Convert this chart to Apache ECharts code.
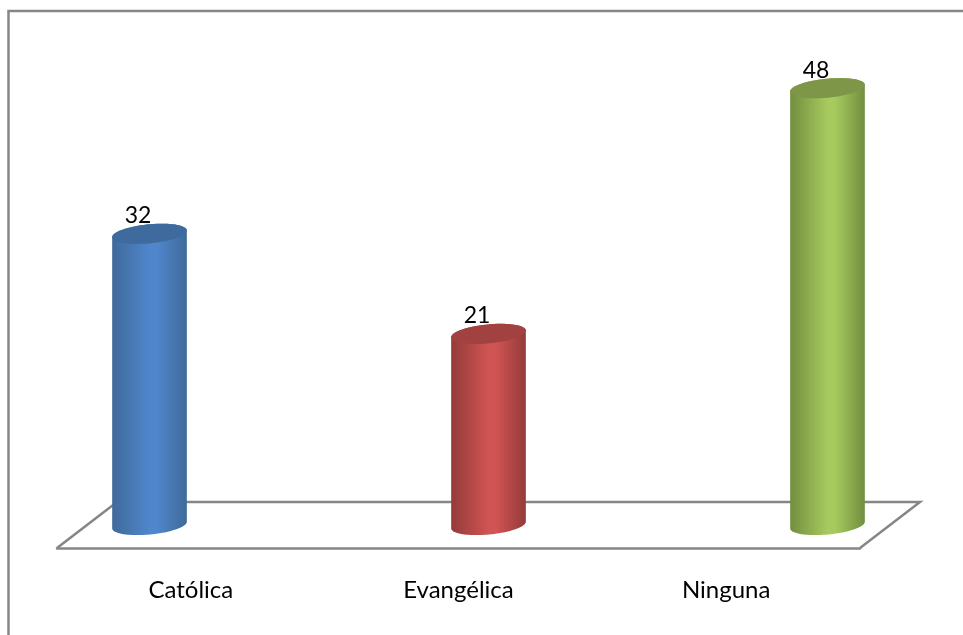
<!DOCTYPE html>
<html>
<head>
<meta charset="utf-8">
<style>html,body{margin:0;padding:0;background:#fff}#chart{width:963px;height:635px}</style>
<script src="https://cdn.jsdelivr.net/npm/echarts@6/dist/echarts.min.js"></script>
</head>
<body>
<div id="chart"></div>
<script>
// Respuestas por religión
const categories = ['Católica', 'Evangélica', 'Ninguna'];
const values = [32, 21, 48];

// Body gradient (edge, centre) and cap colour for each cylinder
const bodyEdge = ['#3f6a99', '#933b39', '#728e40'];
const bodyMid = ['#5086cc', '#d05453', '#a7ca5e'];
const capFill = ['#3e6a9e', '#a14240', '#7d9648'];

const FONT = 'Lato, Carlito, "Open Sans", sans-serif';
const GRAY = '#868686';
const RX = 37.5, RY = 9.5, TILT = 0.095;

// Point on a slightly tilted ellipse, right side raised
function ellipsePoint(cx, cy, t) {
  const u = RX * Math.cos(t), v = RY * Math.sin(t);
  return [cx + u * Math.cos(TILT) + v * Math.sin(TILT),
          cy - u * Math.sin(TILT) + v * Math.cos(TILT)];
}
function arc(cx, cy, from, to) {
  const pts = [];
  for (let i = 0; i <= 48; i++) pts.push(ellipsePoint(cx, cy, from + (to - from) * i / 48));
  return pts;
}

// Draws one cylinder from its category index and value
function renderCylinder(params, api) {
  const i = api.value(0), v = api.value(1);
  const top = api.coord([i, v]);
  const base = api.coord([i, 0]);
  const cx = top[0];
  const body = arc(cx, base[1], 0, Math.PI).concat(arc(cx, top[1], Math.PI, 2 * Math.PI));
  return {
    type: 'group',
    children: [
      {
        type: 'polygon',
        shape: { points: body },
        style: {
          fill: new echarts.graphic.LinearGradient(0, 0, 1, 0, [
            { offset: 0, color: bodyEdge[i] },
            { offset: 0.5, color: bodyMid[i] },
            { offset: 0.6, color: bodyMid[i] },
            { offset: 1, color: bodyEdge[i] }
          ])
        }
      },
      {
        type: 'polygon',
        shape: { points: arc(cx, top[1], 0, 2 * Math.PI) },
        style: { fill: capFill[i] }
      },
      {
        type: 'text',
        x: cx - 11.5,
        y: top[1] - 18,
        style: {
          text: String(v),
          font: '23px ' + FONT,
          fill: '#000',
          align: 'center',
          verticalAlign: 'middle'
        }
      }
    ]
  };
}

const chart = echarts.init(document.getElementById('chart'), null, { renderer: 'canvas' });
chart.setOption({
  animation: false,
  backgroundColor: '#fff',
  grid: [
    { left: 57, width: 803, top: 70, bottom: 87 },
    { left: 149.5, width: 678, top: 70, bottom: 110 }
  ],
  xAxis: [
    {
      type: 'category',
      gridIndex: 0,
      data: categories,
      axisTick: { show: false },
      axisLine: { show: true, lineStyle: { color: GRAY, width: 2.5 } },
      axisLabel: { color: '#000', fontSize: 24, fontFamily: FONT, margin: 30 }
    },
    { type: 'category', gridIndex: 1, data: categories, show: false, boundaryGap: false }
  ],
  yAxis: [
    { type: 'value', gridIndex: 0, show: false },
    { type: 'value', gridIndex: 1, show: false, min: 0, max: 50 }
  ],
  // Chart frame and the back edges of the floor
  graphic: [
    {
      type: 'polyline',
      silent: true,
      shape: { points: [[8.5, 635], [8.5, 11], [963, 11]] },
      style: { stroke: GRAY, lineWidth: 2.5, fill: null }
    },
    {
      type: 'polyline',
      silent: true,
      shape: { points: [[57, 548], [117, 502], [920, 502], [860, 548]] },
      style: { stroke: GRAY, lineWidth: 2.5, fill: null }
    }
  ],
  series: [
    {
      type: 'custom',
      xAxisIndex: 1,
      yAxisIndex: 1,
      z: 5,
      clip: false,
      renderItem: renderCylinder,
      encode: { x: 0, y: 1 },
      data: values.map((v, i) => [i, v])
    }
  ]
});
</script>
</body>
</html>
